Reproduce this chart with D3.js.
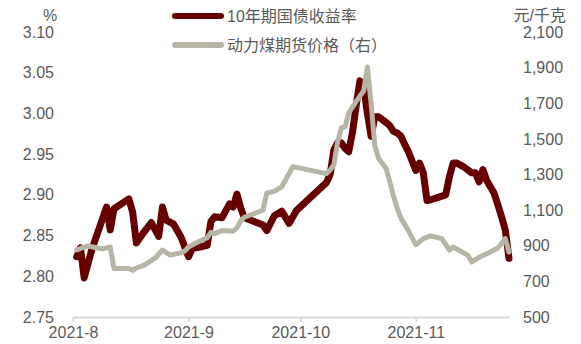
<!DOCTYPE html>
<html><head><meta charset="utf-8">
<script src="https://cdn.jsdelivr.net/npm/d3@7"></script>
<style>
html,body{margin:0;padding:0;background:#fff;}
svg text{font-family:"Liberation Sans",Arial,"Noto Sans CJK SC",sans-serif;fill:#595959;}
</style></head>
<body><svg id="c" width="581" height="344"></svg>
<script>
const seriesNames = ["10年期国债收益率", "动力煤期货价格（右）"];
const leftUnit = "%";
const rightUnit = "元/千克";
const xTickLabels = ["2021-08-01","2021-09-01","2021-10-01","2021-11-01"];
const leftTicks = [2.75,2.80,2.85,2.90,2.95,3.00,3.05,3.10];
const rightTicks = [500,700,900,1100,1300,1500,1700,1900,2100];

const bondDates = ["2021-08-02","2021-08-03","2021-08-04","2021-08-06","2021-08-10","2021-08-11","2021-08-12","2021-08-16","2021-08-17","2021-08-18","2021-08-20","2021-08-22","2021-08-24","2021-08-25","2021-08-26","2021-08-28","2021-08-30","2021-09-01","2021-09-02","2021-09-04","2021-09-06","2021-09-07","2021-09-08","2021-09-10","2021-09-12","2021-09-13","2021-09-14","2021-09-15","2021-09-16","2021-09-21","2021-09-22","2021-09-24","2021-09-26","2021-09-28","2021-09-30","2021-10-08","2021-10-09","2021-10-10","2021-10-11","2021-10-12","2021-10-13","2021-10-14","2021-10-15","2021-10-16","2021-10-17","2021-10-18","2021-10-19","2021-10-20","2021-10-21","2021-10-22","2021-10-24","2021-10-25","2021-10-26","2021-10-27","2021-10-28","2021-10-29","2021-10-30","2021-11-01","2021-11-02","2021-11-03","2021-11-04","2021-11-05","2021-11-07","2021-11-09","2021-11-10","2021-11-11","2021-11-12","2021-11-14","2021-11-16","2021-11-17","2021-11-18","2021-11-19","2021-11-20","2021-11-22","2021-11-23","2021-11-24","2021-11-25","2021-11-26"];
const bondValues = [2.824,2.835,2.798,2.832,2.885,2.857,2.883,2.895,2.879,2.841,2.854,2.866,2.849,2.885,2.869,2.864,2.848,2.824,2.834,2.836,2.838,2.867,2.873,2.872,2.889,2.885,2.901,2.884,2.872,2.863,2.856,2.874,2.880,2.865,2.881,2.915,2.925,2.955,2.964,2.964,2.957,2.953,2.977,3.010,3.040,3.033,3.000,2.972,2.996,2.996,2.989,2.985,2.978,2.976,2.972,2.962,2.953,2.930,2.939,2.927,2.893,2.894,2.897,2.900,2.922,2.939,2.939,2.934,2.927,2.927,2.916,2.931,2.918,2.902,2.888,2.873,2.857,2.822];

const coalDates = ["2021-08-02","2021-08-03","2021-08-05","2021-08-09","2021-08-11","2021-08-12","2021-08-16","2021-08-17","2021-08-18","2021-08-20","2021-08-23","2021-08-25","2021-08-27","2021-08-30","2021-08-31","2021-09-01","2021-09-03","2021-09-06","2021-09-07","2021-09-08","2021-09-10","2021-09-13","2021-09-14","2021-09-15","2021-09-16","2021-09-21","2021-09-22","2021-09-23","2021-09-24","2021-09-26","2021-09-29","2021-09-30","2021-10-08","2021-10-09","2021-10-10","2021-10-11","2021-10-12","2021-10-13","2021-10-14","2021-10-15","2021-10-16","2021-10-17","2021-10-18","2021-10-19","2021-10-20","2021-10-21","2021-10-22","2021-10-24","2021-10-25","2021-10-26","2021-10-27","2021-10-28","2021-10-29","2021-10-30","2021-11-01","2021-11-03","2021-11-05","2021-11-08","2021-11-10","2021-11-11","2021-11-15","2021-11-16","2021-11-18","2021-11-21","2021-11-23","2021-11-25","2021-11-26"];
const coalValues = [876,885,899,882,893,772,772,762,775,790,830,876,848,860,870,893,915,945,975,968,985,982,1000,1040,1060,1100,1196,1200,1205,1230,1344,1340,1305,1325,1353,1482,1561,1567,1645,1679,1710,1740,1770,1903,1700,1460,1390,1335,1260,1180,1110,1055,1020,985,905,940,955,940,875,893,846,809,835,865,887,940,865];

const parse = d3.timeParse("%Y-%m-%d");
const svg = d3.select("#c");
svg.append("rect").attr("width",581).attr("height",344).attr("fill","#fff");

const x = d3.scaleTime().domain([parse("2021-08-01"), parse("2021-11-26")]).range([73, 509]);
const yL = d3.scaleLinear().domain([2.75, 3.10]).range([317, 32]);
const yR = d3.scaleLinear().domain([500, 2100]).range([317, 32]);

// x axis
const gx = svg.append("g").attr("transform","translate(0,317)")
  .call(d3.axisBottom(x).tickValues(xTickLabels.map(parse)).tickFormat(d3.timeFormat("%Y-%-m")).tickSize(5).tickSizeOuter(0).tickPadding(5));
gx.select(".domain").attr("stroke","#D9D9D9").attr("stroke-width",2);
gx.selectAll(".tick line").attr("stroke","#D9D9D9").attr("stroke-width",2);
gx.selectAll("text").attr("font-size",16).attr("fill","#595959");

// left axis
const gl = svg.append("g").attr("transform","translate(54,0)")
  .call(d3.axisLeft(yL).tickValues(leftTicks).tickFormat(d3.format(".2f")).tickSize(0).tickPadding(0));
gl.select(".domain").remove();
gl.selectAll("text").attr("font-size",16).attr("fill","#595959");

// right axis
const gr = svg.append("g").attr("transform","translate(523,0)")
  .call(d3.axisRight(yR).tickValues(rightTicks).tickFormat(d3.format(",")).tickSize(0).tickPadding(0));
gr.select(".domain").remove();
gr.selectAll("text").attr("font-size",16).attr("fill","#595959");

svg.append("text").attr("x",50).attr("y",15).attr("dy","0.35em").attr("text-anchor","middle").attr("font-size",16).text(leftUnit);
svg.append("text").attr("x",566).attr("y",15).attr("dy","0.35em").attr("text-anchor","end").attr("font-size",16).text(rightUnit);

const bond = bondDates.map((d,i)=>({d:parse(d), v:bondValues[i]}));
const coal = coalDates.map((d,i)=>({d:parse(d), v:coalValues[i]}));

const colors = ["#660000", "#B7B5A5"];
const widths = [7, 5];

svg.append("path").datum(bond)
  .attr("d", d3.line().x(p=>x(p.d)).y(p=>yL(p.v)))
  .attr("fill","none").attr("stroke",colors[0]).attr("stroke-width",widths[0])
  .attr("stroke-linejoin","round").attr("stroke-linecap","round");
svg.append("path").datum(coal)
  .attr("d", d3.line().x(p=>x(p.d)).y(p=>yR(p.v)))
  .attr("fill","none").attr("stroke",colors[1]).attr("stroke-width",widths[1])
  .attr("stroke-linejoin","round").attr("stroke-linecap","round");

// legend
const lg = svg.append("g");
seriesNames.forEach((n,i)=>{
  const yy = 16 + i*29;
  lg.append("line").attr("x1",175).attr("x2",221).attr("y1",yy).attr("y2",yy)
    .attr("stroke",colors[i]).attr("stroke-width",6).attr("stroke-linecap","round");
  lg.append("text").attr("x",227).attr("y",yy).attr("dy","0.35em").attr("font-size",16).text(n);
});
</script></body></html>
